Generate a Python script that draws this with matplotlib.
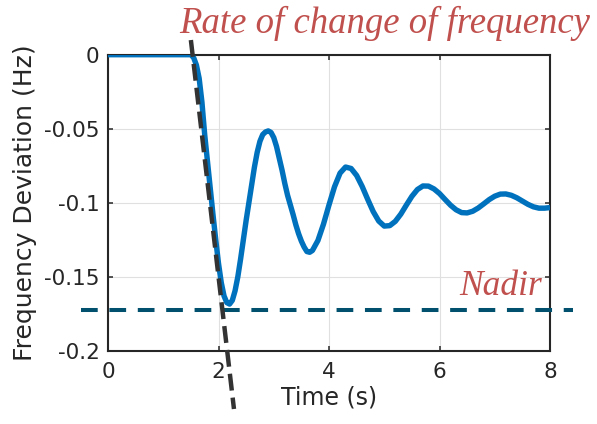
import matplotlib
matplotlib.use("Agg")
import matplotlib.pyplot as plt

# time (s) and frequency deviation (Hz)
time = [0.0, 1.50, 1.55, 1.60, 1.65, 1.70, 1.75, 1.80, 1.85, 1.90, 1.95,
        2.00, 2.05, 2.10, 2.15, 2.20, 2.25, 2.30, 2.35, 2.40, 2.45, 2.50,
        2.55, 2.60, 2.65, 2.70, 2.75, 2.80, 2.85, 2.90, 2.95, 3.00, 3.05,
        3.10, 3.15, 3.20, 3.25, 3.30, 3.35, 3.40, 3.45, 3.50, 3.55, 3.60,
        3.65, 3.70, 3.80, 3.90, 4.00, 4.10, 4.20, 4.30, 4.40, 4.50, 4.60,
        4.70, 4.80, 4.90, 5.00, 5.10, 5.20, 5.30, 5.40, 5.50, 5.60, 5.70,
        5.80, 5.90, 6.00, 6.10, 6.20, 6.30, 6.40, 6.50, 6.60, 6.70, 6.80,
        6.90, 7.00, 7.10, 7.20, 7.30, 7.40, 7.50, 7.60, 7.70, 7.80, 7.90,
        8.00]
freq_dev = [0.0, 0.0, -0.002, -0.007, -0.016, -0.032, -0.054, -0.072,
            -0.090, -0.108, -0.125, -0.141, -0.154, -0.163, -0.1675, -0.1685,
            -0.166, -0.1595, -0.150, -0.138, -0.125, -0.112, -0.100, -0.088,
            -0.076, -0.066, -0.0585, -0.054, -0.0522, -0.0515, -0.0525,
            -0.056, -0.062, -0.070, -0.078, -0.087, -0.095, -0.1015, -0.108,
            -0.115, -0.121, -0.126, -0.130, -0.1330, -0.1335, -0.1323,
            -0.1255, -0.1145, -0.1015, -0.0892, -0.0800, -0.0759, -0.0769,
            -0.0816, -0.0890, -0.0977, -0.1060, -0.1124, -0.1158, -0.1155,
            -0.1126, -0.1077, -0.1016, -0.0957, -0.0911, -0.0887, -0.0888,
            -0.0907, -0.0938, -0.0978, -0.1017, -0.1048, -0.1067, -0.1069,
            -0.1058, -0.1036, -0.1008, -0.0979, -0.0956, -0.0942, -0.0941,
            -0.0950, -0.0967, -0.0989, -0.1011, -0.1028, -0.1037, -0.1037,
            -0.1033]

# annotation lines
nadir_value = -0.1725
nadir_span = [-0.49, 8.42]
rocof_t = [1.50, 2.28]
rocof_f = [0.0099, -0.2394]

x_ticks = [0, 2, 4, 6, 8]
y_ticks = [0, -0.05, -0.1, -0.15, -0.2]
y_tick_labels = ['0', '-0.05', '-0.1', '-0.15', '-0.2']

plt.rcParams['font.family'] = 'DejaVu Sans'
plt.rcParams['axes.unicode_minus'] = False

fig = plt.figure(figsize=(5.97, 4.24), dpi=100)
ax = fig.add_axes([0.1809, 0.1729, 0.7404, 0.6981])

ax.plot(time, freq_dev, color='#0072BD', lw=3.9, solid_capstyle='butt', zorder=3)

# nadir line
nad, = ax.plot(nadir_span, [nadir_value, nadir_value], color='#00506e', lw=2.9,
               clip_on=False, zorder=4)
nad.set_dashes((4.15, 2.9))

# rate of change tangent
roc, = ax.plot(rocof_t, rocof_f, color='#333333', lw=3.2, clip_on=False, zorder=5)
roc.set_dashes((3.8, 1.6))

ax.set_xlim(0, 8)
ax.set_ylim(-0.2, 0)
ax.set_xticks(x_ticks)
ax.set_yticks(y_ticks)
ax.set_yticklabels(y_tick_labels)

ax.grid(True, color='#e0e0e0', lw=0.8)
ax.set_axisbelow(True)
for s in ax.spines.values():
    s.set_linewidth(1.5)
    s.set_color('#262626')
ax.tick_params(direction='in', length=3.4, width=1.1, color='#262626',
               top=True, right=True, labelsize=15.5, labelcolor='#262626')
ax.tick_params(axis='x', pad=8)
ax.tick_params(axis='y', pad=6)

ax.set_xlabel('Time (s)', fontsize=17, color='#262626', labelpad=3)
ax.set_ylabel('Frequency Deviation (Hz)', fontsize=18, color='#262626', labelpad=5)

red = '#C0504D'
fig.text(179 / 597, 1 - 33 / 424, 'Rate of change of frequency', color=red,
         family='Liberation Serif', style='italic', fontsize=26.5,
         ha='left', va='baseline')
ax.text(7.855, -0.1624, 'Nadir', color=red, family='Liberation Serif',
        style='italic', fontsize=25.5, ha='right', va='baseline')

fig.savefig('out.png', dpi=100)
